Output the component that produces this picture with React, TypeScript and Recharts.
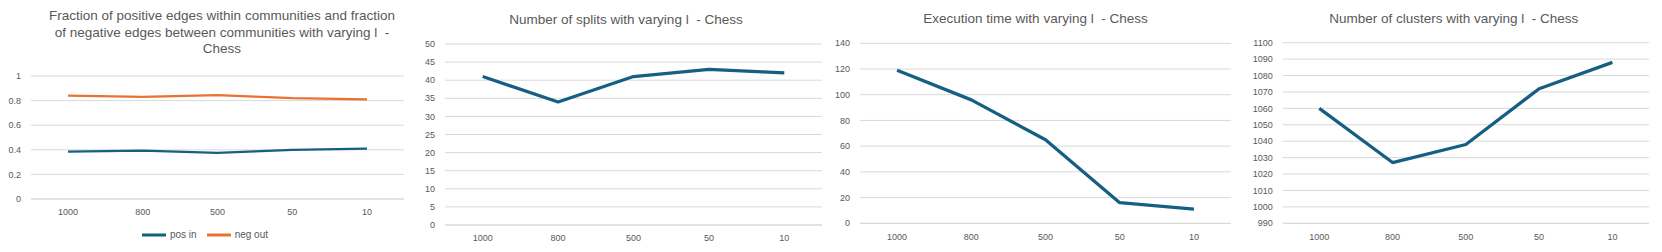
import { LineChart, Line, XAxis, YAxis, CartesianGrid, Legend } from 'recharts'

const FONT = '"Liberation Sans", Arial, sans-serif'
const TEXT = '#595959'
const GRID = '#D9D9D9'
const BLUE = '#156082'
const ORANGE = '#E97132'

// ── data ──
const categories = ['1000', '800', '500', '50', '10']
const seriesNames = ['pos in', 'neg out']
const posIn = [0.385, 0.393, 0.375, 0.4, 0.41]
const negOut = [0.84, 0.83, 0.845, 0.82, 0.81]
const splits = [41, 34, 41, 43, 42]
const execTime = [119, 96, 65, 16, 11]
const clusters = [1060, 1027, 1038, 1072, 1088]

const fracTicks = [0, 0.2, 0.4, 0.6, 0.8, 1]
const splitTicks = [0, 5, 10, 15, 20, 25, 30, 35, 40, 45, 50]
const timeTicks = [0, 20, 40, 60, 80, 100, 120, 140]
const clusterTicks = [990, 1000, 1010, 1020, 1030, 1040, 1050, 1060, 1070, 1080, 1090, 1100]

const fracData = categories.map((c, i) => ({ c, [seriesNames[0]]: posIn[i], [seriesNames[1]]: negOut[i] }))
const splitData = categories.map((c, i) => ({ c, v: splits[i] }))
const timeData = categories.map((c, i) => ({ c, v: execTime[i] }))
const clusterData = categories.map((c, i) => ({ c, v: clusters[i] }))

const tick = { fill: TEXT, fontSize: 9, fontFamily: FONT }

function Title({ cx, top, lines }: { cx: number; top: number; lines: string[] }) {
  return (
    <div style={{
      position: 'absolute', left: cx - 200, top, width: 400, textAlign: 'center',
      fontFamily: FONT, fontSize: 13.5, lineHeight: '16.6px', color: TEXT, whiteSpace: 'pre',
    }}>
      {lines.map((l, i) => <div key={i}>{l}</div>)}
    </div>
  )
}

// one panel: left edge, width, y-axis width, plot top, plot bottom offset
function Panel({ left, width, yw, top, bottom, pad, data, ticks, domain, children }: {
  left: number; width: number; yw: number; top: number; bottom: number; pad: number
  data: object[]; ticks: number[]; domain: [number, number]; children: React.ReactNode
}) {
  return (
    <div style={{ position: 'absolute', left, top: 0 }}>
      <LineChart width={width} height={252} data={data}
        margin={{ top, right: 10, left: 0, bottom: 0 }}>
        <CartesianGrid stroke={GRID} vertical={false} />
        <XAxis dataKey="c" tick={tick} tickLine={false} axisLine={{ stroke: GRID }}
          tickSize={0} tickMargin={10} height={bottom} padding={{ left: pad, right: pad }} />
        <YAxis type="number" domain={domain} ticks={ticks} interval={0} tick={tick}
          tickLine={false} axisLine={false} tickSize={0} tickMargin={10} width={yw} />
        {children}
      </LineChart>
    </div>
  )
}

export default function App() {
  return (
    <div style={{ position: 'absolute', left: 0, top: 0, width: 1662, height: 252, background: '#fff' }}>
      {/* 1: fractions */}
      <div style={{ position: 'absolute', left: 0, top: 0 }}>
        <LineChart width={415} height={252} data={fracData}
          margin={{ top: 76, right: 11, left: 0, bottom: 23 }}>
          <CartesianGrid stroke={GRID} vertical={false} />
          <XAxis dataKey="c" tick={tick} tickLine={false} axisLine={{ stroke: GRID }}
            tickSize={0} tickMargin={10} height={30} padding={{ left: 37, right: 37 }} />
          <YAxis type="number" domain={[0, 1]} ticks={fracTicks} interval={0} tick={tick}
            tickLine={false} axisLine={false} tickSize={0} tickMargin={10} width={31} />
          <Legend layout="horizontal" verticalAlign="middle" align="center" iconType="plainline" iconSize={24}
            itemSorter={(item) => seriesNames.indexOf(String(item.value))}
            wrapperStyle={{ top: 223, left: 8, fontFamily: FONT, fontSize: 10 }}
            formatter={(v) => <span style={{ color: TEXT }}>{v}</span>} />
          <Line dataKey={seriesNames[0]} stroke={BLUE} strokeWidth={2.25} dot={false} isAnimationActive={false} strokeLinejoin="round" />
          <Line dataKey={seriesNames[1]} stroke={ORANGE} strokeWidth={2.25} dot={false} isAnimationActive={false} strokeLinejoin="round" />
        </LineChart>
      </div>
      <Title cx={222} top={8} lines={[
        'Fraction of positive edges within communities and fraction',
        'of negative edges between communities with varying l  -',
        'Chess',
      ]} />

      {/* 2: splits */}
      <Panel left={410} width={422} yw={35} top={44} bottom={27} pad={37.7} data={splitData} ticks={splitTicks} domain={[0, 50]}>
        <Line dataKey="v" stroke={BLUE} strokeWidth={3.25} dot={false} isAnimationActive={false} strokeLinejoin="round" />
      </Panel>
      <Title cx={626} top={12} lines={['Number of splits with varying l  - Chess']} />

      {/* 3: execution time */}
      <Panel left={825} width={416} yw={35} top={43.3} bottom={28.7} pad={37.1} data={timeData} ticks={timeTicks} domain={[0, 140]}>
        <Line dataKey="v" stroke={BLUE} strokeWidth={3.25} dot={false} isAnimationActive={false} strokeLinejoin="round" />
      </Panel>
      <Title cx={1035.5} top={11} lines={['Execution time with varying l  - Chess']} />

      {/* 4: clusters */}
      <Panel left={1240} width={419} yw={42.7} top={42.7} bottom={28.7} pad={36.6} data={clusterData} ticks={clusterTicks} domain={[990, 1100]}>
        <Line dataKey="v" stroke={BLUE} strokeWidth={3.25} dot={false} isAnimationActive={false} strokeLinejoin="round" />
      </Panel>
      <Title cx={1453.7} top={11} lines={['Number of clusters with varying l  - Chess']} />
    </div>
  )
}
